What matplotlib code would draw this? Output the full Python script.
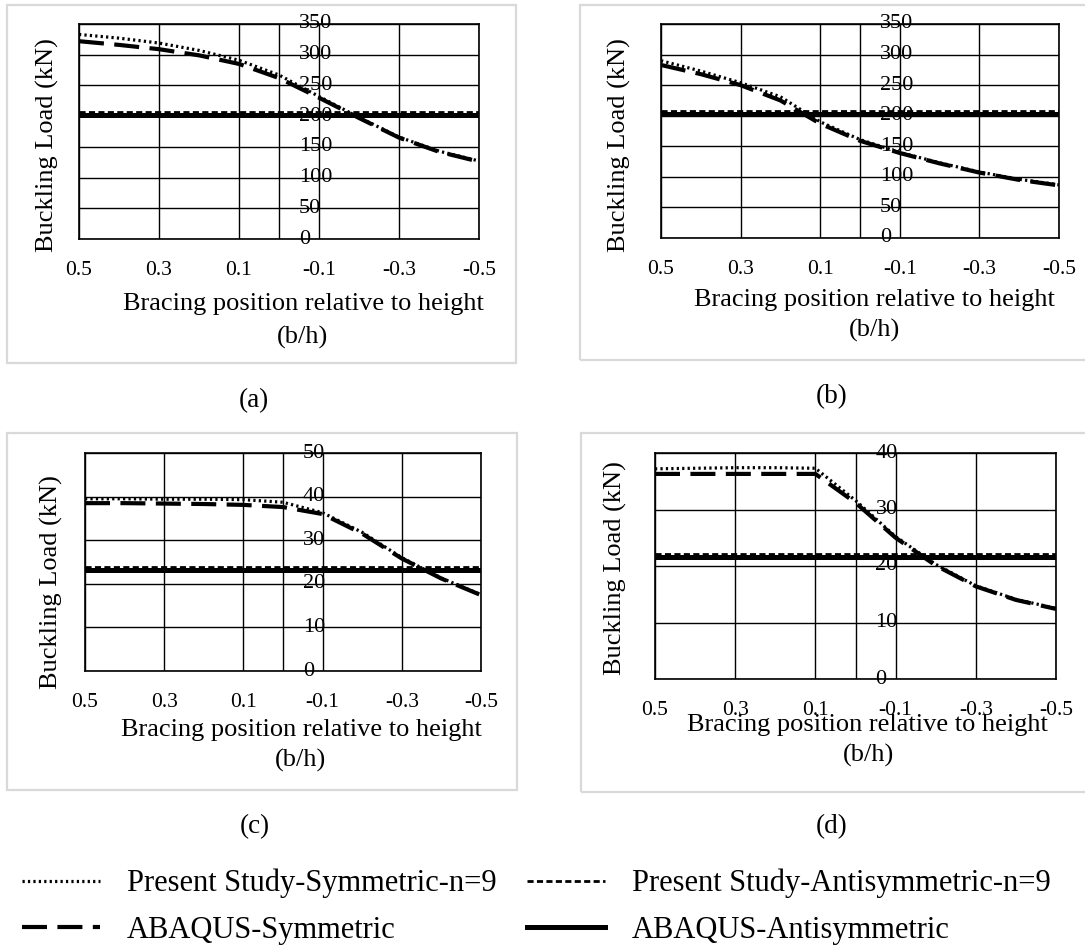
import matplotlib.pyplot as plt
import matplotlib.transforms as mtransforms
from matplotlib.lines import Line2D
from matplotlib.patches import Rectangle
import numpy as np

plt.rcParams['font.family'] = ['Liberation Serif', 'DejaVu Serif']

# Положение связи относительно высоты (b/h)
pos = [0.5, 0.4, 0.3, 0.2, 0.1, 0.0, -0.1, -0.2, -0.3, -0.4, -0.5]
xtick_vals = [0.5, 0.3, 0.1, -0.1, -0.3, -0.5]
xtick_text = ['0.5', '0.3', '0.1', '-0.1', '-0.3', '-0.5']

# (a)
sym_a = [333, 327, 319, 307, 291, 267, 232, 198, 166, 143, 127]
abq_sym_a = [322, 316, 309, 299, 285, 262, 230, 197, 165, 142, 126]
anti_a = [206, 206, 206, 206, 206, 206, 206, 206, 206, 206, 206]
abq_anti_a = [202, 202, 202, 202, 202, 202, 202, 202, 202, 202, 202]

# (b)
sym_b = [290, 273, 254, 231, 190, 161, 140, 123, 108, 96, 87]
abq_sym_b = [283, 268, 250, 225, 187, 159, 139, 122, 107, 95, 86]
anti_b = [207, 207, 207, 207, 207, 207, 207, 207, 207, 207, 207]
abq_anti_b = [203, 203, 203, 203, 203, 203, 203, 203, 203, 203, 203]

# (c)
sym_c = [39.5, 39.5, 39.4, 39.4, 39.3, 38.7, 36.3, 31.8, 26.0, 21.3, 17.5]
abq_sym_c = [38.5, 38.5, 38.4, 38.3, 38.1, 37.6, 36.0, 31.5, 25.8, 21.2, 17.4]
anti_c = [23.8, 23.8, 23.8, 23.8, 23.8, 23.8, 23.8, 23.8, 23.8, 23.8, 23.8]
abq_anti_c = [23.2, 23.2, 23.2, 23.2, 23.2, 23.2, 23.2, 23.2, 23.2, 23.2, 23.2]

# (d)
sym_d = [37.2, 37.3, 37.4, 37.4, 37.3, 31.6, 25.2, 20.3, 16.5, 14.1, 12.5]
abq_sym_d = [36.3, 36.3, 36.3, 36.3, 36.3, 31.2, 25.0, 20.1, 16.4, 14.0, 12.4]
anti_d = [22.2, 22.2, 22.2, 22.2, 22.2, 22.2, 22.2, 22.2, 22.2, 22.2, 22.2]
abq_anti_d = [21.6, 21.6, 21.6, 21.6, 21.6, 21.6, 21.6, 21.6, 21.6, 21.6, 21.6]

labels = ['Present Study-Symmetric-n=9', 'ABAQUS-Symmetric',
          'Present Study-Antisymmetric-n=9', 'ABAQUS-Antisymmetric']

W, H = 1085, 952
fig = plt.figure(figsize=(W / 100, H / 100), dpi=100)


def frac(x0, y0, x1, y1):
    # пиксели (от верхнего левого угла) -> доли фигуры
    return [x0 / W, 1 - y1 / H, (x1 - x0) / W, (y1 - y0) / H]


# стили линий
st_sym = dict(color='black', lw=2.3, dashes=(0.7, 1.0))
st_abq_sym = dict(color='black', lw=3.0, dashes=(6, 2.5))
st_anti = dict(color='black', lw=2.0, dashes=(2.2, 1.2))
st_abq_anti = dict(color='black', lw=3.6)

panels = [
    dict(ax=(79, 24, 479, 239), box=(7, 5, 516, 363), ymax=350, step=50,
         data=(sym_a, abq_sym_a, anti_a, abq_anti_a),
         ylab=(47, 145), xlab=(303, 304), bh=(303, 337), cap=(254, 401), cap_t='(a)'),
    dict(ax=(661, 24, 1059, 238), box=(580, 5, 1090, 360), ymax=350, step=50,
         data=(sym_b, abq_sym_b, anti_b, abq_anti_b),
         ylab=(619, 145), xlab=(874, 300), bh=(874, 330), cap=(832, 397), cap_t='(b)'),
    dict(ax=(85, 453, 481, 671), box=(7, 433, 517, 790), ymax=50, step=10,
         data=(sym_c, abq_sym_c, anti_c, abq_anti_c),
         ylab=(51, 582), xlab=(301, 730), bh=(301, 760), cap=(255, 827), cap_t='(c)'),
    dict(ax=(655, 453, 1056, 679), box=(581, 433, 1090, 792), ymax=40, step=10,
         data=(sym_d, abq_sym_d, anti_d, abq_anti_d),
         ylab=(615, 568), xlab=(867, 725), bh=(869, 755), cap=(832, 827), cap_t='(d)'),
]

for p in panels:
    x0, y0, x1, y1 = p['box']
    fig.add_artist(Rectangle((x0 / W, 1 - y1 / H), (x1 - x0) / W, (y1 - y0) / H,
                             transform=fig.transFigure, fill=False,
                             edgecolor='#d9d9d9', lw=1.6))

    ax = fig.add_axes(frac(*p['ax']))
    sym, abq_sym, anti, abq_anti = p['data']
    ax.plot(pos, abq_anti, solid_capstyle='butt', **st_abq_anti)
    ax.plot(pos, anti, **st_anti)
    ax.plot(pos, abq_sym, **st_abq_sym)
    ax.plot(pos, sym, **st_sym)

    ax.set_xlim(0.5, -0.5)
    ax.set_ylim(0, p['ymax'])
    ax.set_xticks(xtick_vals)
    ax.set_xticklabels(xtick_text, fontsize=15.5)
    ax.set_xticks([0.0], minor=True)
    yt = np.arange(0, p['ymax'] + 1, p['step'])
    ax.set_yticks(yt)
    ax.grid(True, which='both', color='black', lw=1.0)
    ax.set_axisbelow(True)
    ax.tick_params(which='both', length=0)
    ax.tick_params(axis='x', pad=15.5)
    ax.tick_params(axis='y', labelleft=False)
    for s in ax.spines.values():
        s.set_color('black')
        s.set_linewidth(1.2)

    # подписи оси Y стоят справа от линии x = 0
    trans = mtransforms.offset_copy(ax.transData, fig=fig, x=20, y=0, units='dots')
    for v in yt:
        ax.text(0.0, v, str(v), transform=trans, ha='left', va='center',
                fontsize=16, clip_on=False)

    fig.text(p['ylab'][0] / W, 1 - p['ylab'][1] / H, 'Buckling Load (kN)',
             rotation=90, ha='center', va='center', fontsize=19)
    fig.text(p['xlab'][0] / W, 1 - p['xlab'][1] / H, 'Bracing position relative to height',
             ha='center', va='center', fontsize=19)
    fig.text(p['bh'][0] / W, 1 - p['bh'][1] / H, '(b/h)',
             ha='center', va='center', fontsize=19)
    fig.text(p['cap'][0] / W, 1 - p['cap'][1] / H, p['cap_t'],
             ha='center', va='center', fontsize=19.5)

handles = [Line2D([], [], **st_sym), Line2D([], [], **st_abq_sym),
           Line2D([], [], **st_anti), Line2D([], [], **st_abq_anti)]
fig.legend(handles, labels, loc='upper left', bbox_to_anchor=(22 / W, 1 - 869 / H),
           ncol=2, frameon=False, fontsize=22, handlelength=2.55, handletextpad=0.88,
           columnspacing=1.0, labelspacing=0.56, borderaxespad=0, borderpad=0)

fig.savefig('out.png', dpi=100)
